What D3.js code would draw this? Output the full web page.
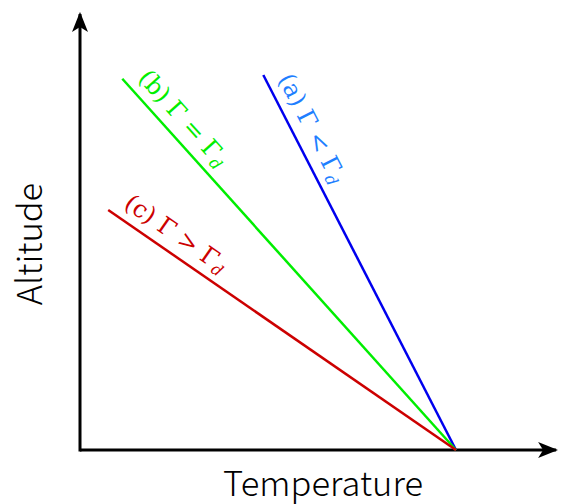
<!DOCTYPE html>
<html><head><meta charset="utf-8">
<script src="https://cdn.jsdelivr.net/npm/d3@7"></script>
<style>body{margin:0;background:#fff}</style>
</head><body>
<svg id="c" width="562" height="504"></svg>
<script>
// Data (arbitrary units: temperature, altitude)
const series = ["a", "b", "c"];
const startT = [39, 9, 6];      // temperature at top of each profile
const startZ = [100, 99, 64];   // altitude at top of each profile
const groundT = [80, 80, 80];   // common surface temperature
const groundZ = [0, 0, 0];
const labelPrefix = ["(a)", "(b)", "(c)"];
const labelOp = ["<", "=", ">"];
const lineColors = ["#0000ee", "#00ee00", "#cc0000"];
const labelColors = ["#1f7fff", "#00ee00", "#cc0000"];
const axisLabels = ["Temperature", "Altitude"];

const svg = d3.select("#c");
const x = d3.scaleLinear().domain([0, 80]).range([80, 456]);
const y = d3.scaleLinear().domain([0, 100]).range([450, 75]);

// axes with arrows
svg.append("defs").append("marker")
  .attr("id", "arr").attr("viewBox", "0 0 20 20").attr("refX", 18).attr("refY", 10)
  .attr("markerWidth", 20).attr("markerHeight", 20).attr("markerUnits", "userSpaceOnUse")
  .attr("orient", "auto")
  .append("path").attr("d", "M0,2 L20,10 L0,18 L5,10 Z").attr("fill", "#000");

svg.append("line").attr("x1", x(0)).attr("y1", y(0)).attr("x2", x(101.3)).attr("y2", y(0))
  .attr("stroke", "#000").attr("stroke-width", 3).attr("marker-end", "url(#arr)");
svg.append("line").attr("x1", x(0)).attr("y1", y(0) + 1.5).attr("x2", x(0)).attr("y2", y(116.3))
  .attr("stroke", "#000").attr("stroke-width", 3).attr("marker-end", "url(#arr)");

// profiles
series.forEach((s, i) => {
  const x1 = x(startT[i]), y1 = y(startZ[i]), x2 = x(groundT[i]), y2 = y(groundZ[i]);
  svg.append("line").attr("x1", x1).attr("y1", y1).attr("x2", x2).attr("y2", y2)
    .attr("stroke", lineColors[i]).attr("stroke-width", 2.5);
  const ang = Math.atan2(y2 - y1, x2 - x1) * 180 / Math.PI;
  const t = svg.append("text")
    .attr("transform", `translate(${x1},${y1}) rotate(${ang}) translate(10,-11)`)
    .attr("font-family", "'DejaVu Serif','Liberation Serif',serif")
    .attr("font-size", 24).attr("fill", labelColors[i]);
  t.append("tspan").text(labelPrefix[i] + " Γ " + labelOp[i] + " Γ");
  t.append("tspan").attr("font-style", "italic").attr("font-size", 16).attr("dy", 4).text("d");
});

// axis titles
svg.append("text").attr("x", 323).attr("y", 496).attr("text-anchor", "middle")
  .attr("font-family", "'Noto Sans CJK JP','Noto Sans',sans-serif").attr("font-size", 34.5)
  .attr("font-weight", 300)
  .attr("fill", "#000").text(axisLabels[0]);
svg.append("text").attr("transform", "translate(42,244) rotate(-90)").attr("text-anchor", "middle")
  .attr("font-family", "'Noto Sans CJK JP','Noto Sans',sans-serif").attr("font-size", 34.5)
  .attr("font-weight", 300)
  .attr("fill", "#000").text(axisLabels[1]);
</script>
</body></html>
